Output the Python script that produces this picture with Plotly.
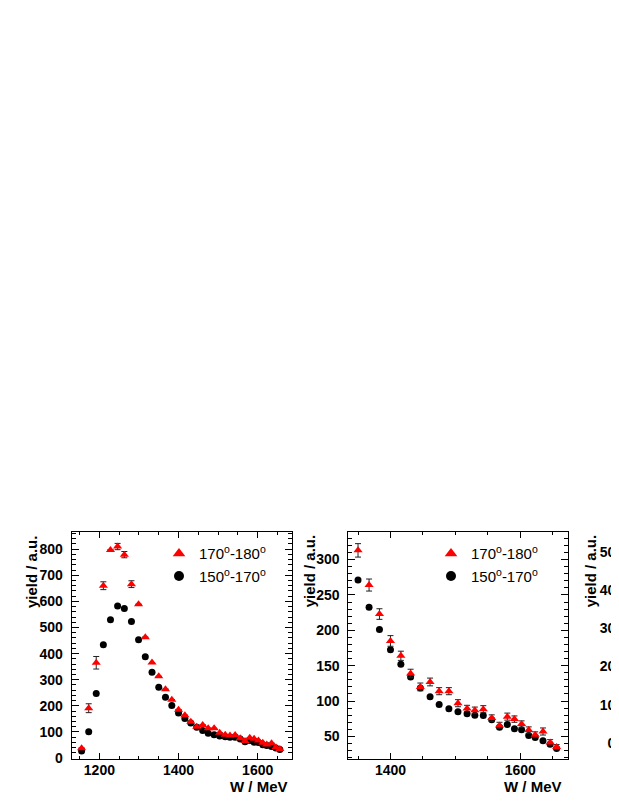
import plotly.graph_objects as go

# ---------------- data ----------------
W = [1155, 1173, 1192, 1210, 1228, 1246, 1263, 1281, 1299, 1316, 1333,
     1350, 1367, 1383, 1400, 1416, 1431, 1446, 1461, 1475, 1490, 1504,
     1518, 1530, 1543, 1556, 1568, 1580, 1591, 1602, 1613, 1623, 1635,
     1646, 1656]

# 170-180 deg (red triangles)
yield_170_180 = [38, 191, 365, 660, 797, 810, 779, 666, 589, 463, 366,
                 313, 264, 223, 185, 164, 139, 120, 127, 114, 114, 97,
                 89.5, 87, 88.5, 76, 65.5, 78, 74.5, 67.5, 59, 52.5, 57,
                 41.5, 35]

# 150-170 deg (black circles)
yield_150_170 = [27, 101, 247, 434, 530, 582, 573, 523, 453, 388, 329,
                 271, 232.5, 201, 172.5, 152, 134, 118.5, 106, 95, 89, 85,
                 82, 80, 79.5, 73.5, 63, 67, 61, 59.5, 51.5, 48.5, 44,
                 39, 33]

# error bars visible in the wide (left) panel
err_170_180_wide = [0, 17, 24, 15, 0, 12, 12, 13, 0, 0, 0,
                    0, 0, 0, 0, 0, 0, 0, 0, 0, 0, 0,
                    0, 0, 0, 0, 0, 0, 0, 0, 0, 0, 0,
                    0, 0]

# error bars of the zoomed (middle) panel, W >= 1350
err_170_180_zoom = [9.5, 8.5, 7.5, 7.5, 6.5, 6, 5.5, 5.5, 5, 5, 5, 4.5,
                    4.5, 5, 4.5, 4.5, 5, 4.5, 4.5, 4.5, 4, 5, 4, 3.5]

zoom_start = 11  # index of W = 1350

label_a = "170<sup>o</sup>-180<sup>o</sup>"
label_b = "150<sup>o</sup>-170<sup>o</sup>"

# ---------------- layout helpers ----------------
# the figure lands 8 px to the right in the page
OFFX, OFFY = 8, 0
FW, FH = 619 - OFFX, 801
def px(x):
    return (x - OFFX) / FW
def py(y):
    return (FH - (y - OFFY)) / FH

tickfont = dict(family="Liberation Sans", size=14, color="black", weight="bold")
titlefont = dict(family="Liberation Sans", size=15, color="black", weight="bold")
legfont = dict(family="Liberation Sans", size=15, color="black")

RED = "#ff0000"

fig = go.Figure()

# panel 1
fig.add_trace(go.Scatter(
    x=W, y=yield_150_170, mode="markers", xaxis="x", yaxis="y",
    marker=dict(symbol="circle", size=7, color="black"),
    showlegend=False))
fig.add_trace(go.Scatter(
    x=W, y=yield_170_180, mode="markers", xaxis="x", yaxis="y",
    marker=dict(symbol="triangle-up", size=8, color=RED),
    error_y=dict(type="data", array=err_170_180_wide, visible=True,
                 color="#222222", thickness=1, width=3),
    showlegend=False))

# panel 2
fig.add_trace(go.Scatter(
    x=W[zoom_start:], y=yield_150_170[zoom_start:], mode="markers",
    xaxis="x2", yaxis="y2",
    marker=dict(symbol="circle", size=7, color="black"),
    showlegend=False))
fig.add_trace(go.Scatter(
    x=W[zoom_start:], y=yield_170_180[zoom_start:], mode="markers",
    xaxis="x2", yaxis="y2",
    marker=dict(symbol="triangle-up", size=8, color=RED),
    error_y=dict(type="data", array=err_170_180_zoom, visible=True,
                 color="#222222", thickness=1, width=3),
    showlegend=False))

# legend entries (one legend per panel)
for lg in ["legend", "legend2"]:
    fig.add_trace(go.Scatter(
        x=[None], y=[None], mode="markers", name=label_a, legend=lg,
        marker=dict(symbol="triangle-up", size=11, color=RED)))
    fig.add_trace(go.Scatter(
        x=[None], y=[None], mode="markers", name=label_b, legend=lg,
        marker=dict(symbol="circle", size=10, color="black")))

# panel 3 (cut off at the right border): only its y axis shows
fig.add_trace(go.Scatter(x=[], y=[], xaxis="x3", yaxis="y3", showlegend=False))

ytop, ybot = 528.8, 757.5

def xaxis_style(domain, rng, minor_dtick):
    return dict(domain=domain, range=rng, showgrid=False, zeroline=False,
                showline=True, linecolor="black", linewidth=1, mirror="allticks",
                ticks="inside", ticklen=6, tickwidth=1, tickcolor="black",
                tick0=0, dtick=200, tickfont=tickfont, ticklabelstandoff=-2,
                minor=dict(ticks="inside", ticklen=3, dtick=minor_dtick,
                           tick0=0, tickcolor="black", showgrid=False))

def yaxis_style(anchor, rng, dtick, minor_dtick):
    return dict(domain=[py(ybot), py(ytop)], range=rng, anchor=anchor,
                showgrid=False, zeroline=False,
                showline=True, linecolor="black", linewidth=1, mirror="allticks",
                ticks="inside", ticklen=7, tickwidth=1, tickcolor="black",
                tick0=0, dtick=dtick, tickfont=tickfont, ticklabelstandoff=5,
                minor=dict(ticks="inside", ticklen=4, dtick=minor_dtick,
                           tick0=0, tickcolor="black", showgrid=False))

fig.update_layout(
    width=FW, height=FH, autosize=False,
    margin=dict(l=0, r=0, t=0, b=0),
    paper_bgcolor="white", plot_bgcolor="white",
    xaxis=xaxis_style([px(71.7), px(291.7)], [1130, 1686], 50) | dict(anchor="y"),
    yaxis=yaxis_style("x", [-3, 865], 100, 20),
    xaxis2=xaxis_style([px(348.3), px(568.3)], [1335, 1674], 50) | dict(anchor="y2"),
    yaxis2=yaxis_style("x2", [18.3, 338.7], 50, 10),
    xaxis3=dict(domain=[0.999, 1.0], anchor="y3", visible=False, range=[0, 1]),
    yaxis3=dict(domain=[py(ybot), py(ytop)], anchor="x3", range=[-4.1, 55.1],
                dtick=10, tick0=0, showgrid=False, zeroline=False,
                showline=False, ticks="", tickfont=tickfont, ticklabelstandoff=2),
    legend=dict(x=px(159), y=py(534), xanchor="left", yanchor="top",
                font=legfont, bgcolor="rgba(0,0,0,0)", borderwidth=0,
                tracegroupgap=0, itemwidth=30),
    legend2=dict(x=px(431), y=py(534), xanchor="left", yanchor="top",
                 font=legfont, bgcolor="rgba(0,0,0,0)", borderwidth=0,
                 tracegroupgap=0, itemwidth=30),
    showlegend=True,
)

annos = []
for xc in [31.7, 309.0, 590.0]:
    annos.append(dict(text="yield / a.u.", x=px(xc), y=py(529.5),
                      xref="paper", yref="paper", xanchor="center", yanchor="top",
                      textangle=-90, showarrow=False, font=titlefont))
for xr in [290.0, 564.0]:
    annos.append(dict(text="W / MeV", x=px(xr), y=py(785),
                      xref="paper", yref="paper", xanchor="right", yanchor="middle",
                      showarrow=False, font=titlefont))
fig.update_layout(annotations=annos)

fig.write_html("out.html")
